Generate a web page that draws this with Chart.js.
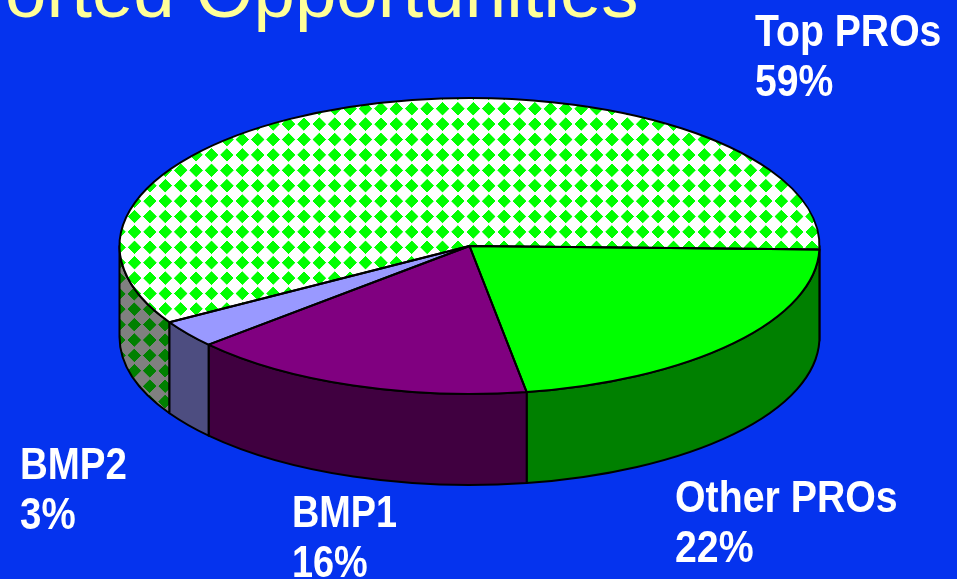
<!DOCTYPE html>
<html>
<head>
<meta charset="utf-8">
<title>Opportunities</title>
<script src="https://cdn.jsdelivr.net/npm/chart.js@4"></script>
<style>
  html, body { margin: 0; padding: 0; width: 957px; height: 579px; overflow: hidden; background: #0533ee; }
  #grafico { position: absolute; left: 0; top: 0; }
  .titulo {
    position: absolute; left: 5px; top: -50px; white-space: nowrap;
    font: 74.5px/84px "Liberation Sans", Arial, sans-serif; color: #ffff99;
  }
  .rotulo {
    position: absolute; white-space: pre; color: #fff;
    font: bold 44px/50px "Liberation Sans", Arial, sans-serif;
    transform-origin: left top;
  }
</style>
</head>
<body>
<canvas id="grafico" width="957" height="579"></canvas>
<div class="titulo">orted Opportunities</div>
<script>
const categorias = ['Top PROs', 'Other PROs', 'BMP1', 'BMP2']
const valores = [59, 22, 16, 3]

const coresTopo = ['#00ff00', '#00ff00', '#800080', '#9999ff']
const coresLado = ['#008000', '#008000', '#400040', '#4d4d80']
const posRotulos = [[755, 6, 0.89], [675, 472, 0.893], [292, 487, 0.86], [20, 439, 0.875]]

const raioX = 350
const profundidade = 91
const lado = 15.4

// tile with one diamond in the middle, drawn at 4x so it can be scaled to a fractional size
function criaPadrao(ctx, fundo, frente) {
  const t = document.createElement('canvas')
  const s = Math.round(lado * 4)
  t.width = t.height = s
  const c = t.getContext('2d')
  c.fillStyle = fundo
  c.fillRect(0, 0, s, s)
  c.fillStyle = frente
  const r = s * 0.44
  c.beginPath()
  c.moveTo(s / 2 - r, s / 2)
  c.lineTo(s / 2, s / 2 - r)
  c.lineTo(s / 2 + r, s / 2)
  c.lineTo(s / 2, s / 2 + r)
  c.closePath()
  c.fill()
  return ctx.createPattern(t, 'repeat')
}

function matrizPadrao(cx, cy) {
  return new DOMMatrix().translate(cx - lado / 2, cy - lado / 2).scale(lado / Math.round(lado * 4))
}

const ctx = document.getElementById('grafico').getContext('2d')
const padraoTopo = criaPadrao(ctx, '#ffffff', '#00ff00')
const padraoLado = criaPadrao(ctx, '#808080', '#008000')
padraoLado.setTransform(matrizPadrao(134.3, 340))

// Chart.js only draws circles, so the slices are squashed into an ellipse
// and the side walls and outlines are added from the arc geometry
const pizza3d = {
  id: 'pizza3d',
  beforeDatasetsDraw(chart) {
    const arcs = chart.getDatasetMeta(0).data
    const { x, y, outerRadius } = arcs[0].getProps(['x', 'y', 'outerRadius'], true)
    const sx = raioX / outerRadius
    const c = chart.ctx

    arcs.forEach((arc, i) => {
      const { startAngle, endAngle } = arc.getProps(['startAngle', 'endAngle'], true)
      // only the part of the rim facing the viewer has a visible wall
      for (let k = 0; k < 2; k++) {
        const ini = Math.max(startAngle, 2 * Math.PI * k)
        const fim = Math.min(endAngle, 2 * Math.PI * k + Math.PI)
        if (fim <= ini) continue
        c.beginPath()
        c.ellipse(x, y, raioX, outerRadius, 0, ini, fim)
        c.ellipse(x, y + profundidade, raioX, outerRadius, 0, fim, ini, true)
        c.closePath()
        c.fillStyle = i === 0 ? padraoLado : coresLado[i]
        c.fill()
        c.lineWidth = 2
        c.strokeStyle = '#000'
        c.lineJoin = 'round'
        c.stroke()
      }
    })

    const escala = new DOMMatrix().translate(x, y).scale(sx, 1).translate(-x, -y)
    padraoTopo.setTransform(escala.inverse().multiply(matrizPadrao(411.7, 108.7)))

    c.save()
    c.translate(x, y)
    c.scale(sx, 1)
    c.translate(-x, -y)
  },
  afterDatasetsDraw(chart) {
    const c = chart.ctx
    c.restore()
    const arcs = chart.getDatasetMeta(0).data
    arcs.forEach(arc => {
      const { x, y, startAngle, endAngle, outerRadius } = arc.getProps(['x', 'y', 'startAngle', 'endAngle', 'outerRadius'], true)
      c.beginPath()
      c.moveTo(x, y)
      c.ellipse(x, y, raioX, outerRadius, 0, startAngle, endAngle)
      c.closePath()
      c.lineWidth = 2
      c.strokeStyle = '#000'
      c.lineJoin = 'round'
      c.stroke()
    })
  }
}

new Chart(ctx, {
  type: 'pie',
  data: {
    labels: categorias,
    datasets: [{
      data: valores,
      backgroundColor: [padraoTopo, coresTopo[1], coresTopo[2], coresTopo[3]],
      borderWidth: 0,
      clip: false
    }]
  },
  plugins: [pizza3d],
  options: {
    responsive: false,
    animation: false,
    rotation: 239,
    events: [],
    layout: { padding: { left: 321, right: 339, top: 98, bottom: 185 } },
    plugins: { legend: { display: false }, tooltip: { enabled: false } }
  }
})

categorias.forEach((nome, i) => {
  const d = document.createElement('div')
  d.className = 'rotulo'
  d.style.left = posRotulos[i][0] + 'px'
  d.style.top = posRotulos[i][1] + 'px'
  d.style.transform = `scaleX(${posRotulos[i][2]})`
  d.textContent = nome + '\n' + valores[i] + '%'
  document.body.appendChild(d)
})
</script>
</body>
</html>
